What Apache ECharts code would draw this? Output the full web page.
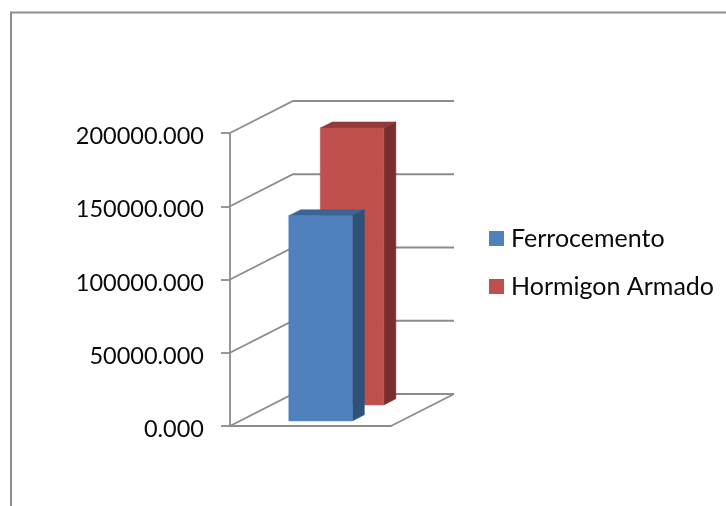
<!DOCTYPE html>
<html>
<head>
<meta charset="utf-8">
<style>html,body{margin:0;padding:0;background:#fff;overflow:hidden}#chart{width:726px;height:506px}</style>
<script src="https://cdn.jsdelivr.net/npm/echarts@6/dist/echarts.min.js"></script>
</head>
<body>
<div id="chart"></div>
<script>
// Cost comparison between two construction systems
const categories = [''];
const seriesNames = ['Ferrocemento', 'Hormigon Armado'];
const ferrocementoValues = [140000];
const hormigonValues = [189000];
const axisTicks = [0, 50000, 100000, 150000, 200000];

const FONT = 'Lato';
const GREY = '#8c8c8c';
const LINE_W = 1.8;

// Oblique projection: how far the back wall sits from the front plane, in pixels
const DEPTH_X = 63;
const DEPTH_Y = -32;

function project(pt, d) {
  return [pt[0] + DEPTH_X * d, pt[1] + DEPTH_Y * d];
}

// Side wall, back wall and floor lines, one polyline per axis tick
function renderWall(params, api) {
  const cs = params.coordSys;
  const front = api.coord([0, api.value(1)]);
  const y = front[1];
  const left = cs.x;
  const a = project([left, y], 1);
  const shapes = [{
    type: 'polyline',
    shape: { points: [[left, y], a, [a[0] + cs.width, a[1]]] },
    style: { stroke: GREY, lineWidth: LINE_W, fill: null }
  }];
  if (api.value(1) === 0) {
    const r = cs.x + cs.width;
    shapes.push({
      type: 'line',
      shape: { x1: r, y1: y, x2: r + DEPTH_X, y2: y + DEPTH_Y },
      style: { stroke: GREY, lineWidth: LINE_W }
    });
  }
  return { type: 'group', children: shapes };
}

// A box standing on the floor at a given depth fraction
function boxRenderer(depthStart, colors) {
  const BOX_DEPTH = 0.19;
  const WIDTH_RATIO = 0.395;
  return function (params, api) {
    const top = api.coord([api.value(0), api.value(1)]);
    const base = api.coord([api.value(0), 0]);
    const w = api.size([1, 0])[0] * WIDTH_RATIO;
    const x0 = top[0] - w / 2;
    const x1 = top[0] + w / 2;
    const tl = project([x0, top[1]], depthStart);
    const tr = project([x1, top[1]], depthStart);
    const bl = project([x0, base[1]], depthStart);
    const br = project([x1, base[1]], depthStart);
    const tlb = project(tl, BOX_DEPTH);
    const trb = project(tr, BOX_DEPTH);
    const brb = project(br, BOX_DEPTH);
    const face = (pts, fill) => ({
      type: 'polygon',
      shape: { points: pts },
      style: { fill: fill, stroke: fill, lineWidth: 0.5 }
    });
    return {
      type: 'group',
      children: [
        face([tl, tr, trb, tlb], colors.top),
        face([tr, trb, brb, br], colors.side),
        face([tl, tr, br, bl], colors.front)
      ]
    };
  };
}

const chart = echarts.init(document.getElementById('chart'), null, { renderer: 'canvas' });
chart.setOption({
  animation: false,
  backgroundColor: '#ffffff',
  textStyle: { fontFamily: FONT },
  graphic: [{
    type: 'polyline',
    silent: true,
    shape: { points: [[11, 520], [11, 12.5], [740, 12.5]] },
    style: { stroke: '#8e8e8e', lineWidth: 2, fill: null }
  }],
  legend: {
    orient: 'vertical',
    left: 489,
    top: 226,
    padding: 0,
    itemWidth: 15,
    itemHeight: 15,
    itemGap: 23,
    icon: 'rect',
    data: seriesNames,
    textStyle: { fontFamily: FONT, fontSize: 25, color: '#0a0a0a', padding: [0, 0, 0, 2] }
  },
  grid: { left: 230, top: 133, width: 161, height: 293, containLabel: false },
  xAxis: {
    type: 'category',
    data: categories,
    axisLine: { show: true, lineStyle: { color: GREY, width: LINE_W } },
    axisTick: { show: false },
    axisLabel: { show: false }
  },
  yAxis: {
    type: 'value',
    min: 0,
    max: 200000,
    interval: 50000,
    axisLine: { show: true, lineStyle: { color: GREY, width: LINE_W } },
    axisTick: { show: true, length: 9, lineStyle: { color: GREY, width: LINE_W } },
    splitLine: { show: false },
    axisLabel: {
      margin: 26,
      fontFamily: FONT,
      fontSize: 23.5,
      color: '#0a0a0a',
      verticalAlign: 'top',
      lineHeight: 7,
      formatter: (v) => v.toFixed(3)
    }
  },
  series: [
    {
      type: 'custom',
      name: 'walls',
      silent: true,
      z: 1,
      clip: false,
      renderItem: renderWall,
      encode: { x: 0, y: 1 },
      data: axisTicks.map((t) => [0, t])
    },
    {
      type: 'custom',
      name: seriesNames[1],
      z: 2,
      clip: false,
      itemStyle: { color: '#C0504D' },
      renderItem: boxRenderer(0.66, { front: '#C0504D', side: '#792F2D', top: '#943B39' }),
      encode: { x: 0, y: 1 },
      data: hormigonValues.map((v, i) => [i, v])
    },
    {
      type: 'custom',
      name: seriesNames[0],
      z: 3,
      clip: false,
      itemStyle: { color: '#4F81BD' },
      renderItem: boxRenderer(0.16, { front: '#4F81BD', side: '#2F5077', top: '#3C6494' }),
      encode: { x: 0, y: 1 },
      data: ferrocementoValues.map((v, i) => [i, v])
    }
  ]
});
</script>
</body>
</html>
